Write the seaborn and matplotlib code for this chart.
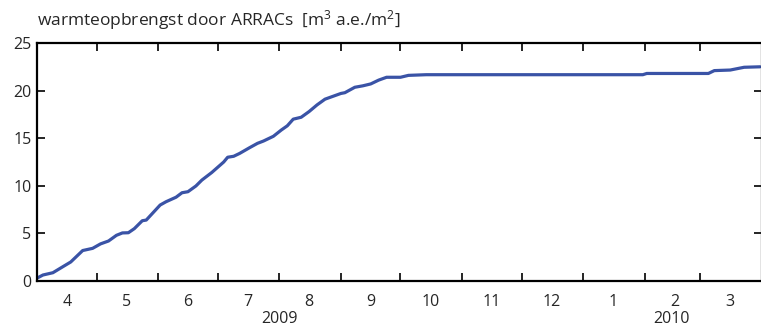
import matplotlib
matplotlib.use("Agg")
import matplotlib.pyplot as plt
import matplotlib.dates as mdates
import seaborn as sns
import pandas as pd
import numpy as np

dates = ["2009-04-01", "2009-04-04", "2009-04-09", "2009-04-14", "2009-04-18", "2009-04-24",
         "2009-04-29", "2009-05-03", "2009-05-07", "2009-05-11", "2009-05-14", "2009-05-17",
         "2009-05-20", "2009-05-24", "2009-05-26", "2009-06-02", "2009-06-05", "2009-06-10",
         "2009-06-13", "2009-06-16", "2009-06-20", "2009-06-23", "2009-06-27", "2009-06-28",
         "2009-07-04", "2009-07-06", "2009-07-09", "2009-07-12", "2009-07-17", "2009-07-21",
         "2009-07-24", "2009-07-29", "2009-08-02", "2009-08-05", "2009-08-08", "2009-08-12",
         "2009-08-16", "2009-08-20", "2009-08-24", "2009-08-28", "2009-09-01", "2009-09-03",
         "2009-09-08", "2009-09-12", "2009-09-16", "2009-09-20", "2009-09-24", "2009-10-01",
         "2009-10-05", "2009-10-14", "2010-01-31", "2010-02-02", "2010-03-05", "2010-03-08",
         "2010-03-16", "2010-03-23", "2010-03-31"]
values = [0.3, 0.63, 0.87, 1.5, 2.0, 3.2,
          3.43, 3.9, 4.2, 4.8, 5.05, 5.07,
          5.5, 6.33, 6.4, 7.98, 8.33, 8.8,
          9.27, 9.38, 9.98, 10.6, 11.24, 11.4,
          12.5, 13.0, 13.1, 13.4, 14.0, 14.46,
          14.7, 15.2, 15.86, 16.3, 17.0, 17.2,
          17.8, 18.5, 19.1, 19.4, 19.7, 19.78,
          20.35, 20.5, 20.7, 21.1, 21.4, 21.4,
          21.6, 21.67, 21.67, 21.8, 21.8, 22.1,
          22.16, 22.45, 22.5]
month_labels = ["4", "5", "6", "7", "8", "9", "10", "11", "12", "1", "2", "3"]
year_labels = ["2009", "2010"]
y_ticks = [0, 5, 10, 15, 20, 25]
title = r"warmteopbrengst door ARRACs  [m$^3$ a.e./m$^2$]"

df = pd.DataFrame({"date": pd.to_datetime(dates), "value": values})

sns.set_style("white")
plt.rcParams["font.family"] = ["Open Sans", "DejaVu Sans"]
plt.rcParams["mathtext.fontset"] = "custom"
plt.rcParams["mathtext.rm"] = "Open Sans"
plt.rcParams["mathtext.it"] = "Open Sans"

FS = 11.5
W, H = 761, 327
fig = plt.figure(figsize=(W / 100, H / 100), dpi=100)
ax = fig.add_axes([37 / W, 1 - 281 / H, (762 - 37) / W, (281 - 43) / H])

sns.lineplot(data=df, x="date", y="value", ax=ax, color="#3a53a6", linewidth=2.3)

ax.set_xlim(pd.Timestamp("2009-04-01"), pd.Timestamp("2010-04-01"))
ax.set_ylim(0, 25)
ax.set_xlabel("")
ax.set_ylabel("")

# month labels at mid-month, ticks at month boundaries
ax.xaxis.set_major_locator(mdates.MonthLocator(bymonthday=16))
ax.xaxis.set_major_formatter(mdates.DateFormatter("%-m"))
ax.xaxis.set_minor_locator(mdates.MonthLocator(bymonthday=1))
ax.tick_params(axis="x", which="major", length=0, pad=9, labelsize=FS)
ax.tick_params(axis="x", which="minor", direction="in", length=6, width=1.2,
               top=True, bottom=True, color="black")
ax.set_yticks(y_ticks)
ax.tick_params(axis="y", direction="in", length=6, width=1.2, left=True, right=True,
               labelsize=FS, pad=4, color="black")

for s in ["left", "bottom", "top", "right"]:
    ax.spines[s].set_visible(True)
    ax.spines[s].set_color("black")
    ax.spines[s].set_linewidth(1.6)

# year labels
fig.text(279 / W, 1 - 319 / H, year_labels[0], ha="center", va="center", fontsize=FS)
fig.text(672 / W, 1 - 319 / H, year_labels[1], ha="center", va="center", fontsize=FS)

fig.text(37 / W, 1 - 20 / H, title, ha="left", va="center", fontsize=12.5)

fig.savefig("out.png", dpi=100)
